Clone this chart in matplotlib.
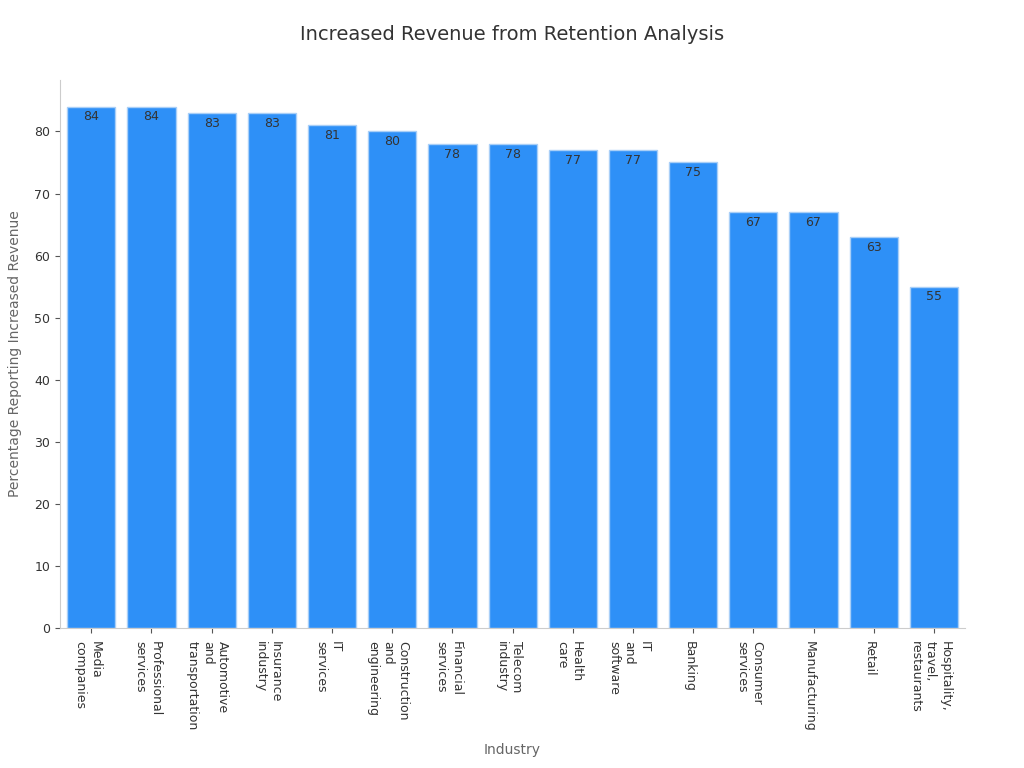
import matplotlib
matplotlib.use("Agg")
import matplotlib.pyplot as plt
import matplotlib.transforms as mtransforms

industries = ["Media\ncompanies", "Professional\nservices", "Automotive\nand\ntransportation",
              "Insurance\nindustry", "IT\nservices", "Construction\nand\nengineering",
              "Financial\nservices", "Telecom\nindustry", "Health\ncare", "IT\nand\nsoftware",
              "Banking", "Consumer\nservices", "Manufacturing", "Retail",
              "Hospitality,\ntravel,\nrestaurants"]
values = [84, 84, 83, 83, 81, 80, 78, 78, 77, 77, 75, 67, 67, 63, 55]

plt.rcParams['font.family'] = ['DejaVu Sans']

fig = plt.figure(figsize=(10.24, 7.68), dpi=100)
ax = fig.add_axes([0.0586, 0.182, 0.884, 0.714])

x = range(len(values))
bars = ax.bar(x, values, width=0.8, color='#2E90F7', edgecolor='#A9CFF7', linewidth=1)
for b, v in zip(bars, values):
    ax.text(b.get_x() + b.get_width() / 2, v - 0.6, str(v), ha='center', va='top',
            fontsize=9, color='#333333')

ax.set_xlim(-0.52, 14.52)
ax.set_ylim(0, 88.3)
ax.set_xticks(list(x))
ax.set_xticklabels(industries, rotation=-90, ha='center', va='top', multialignment='left',
                   fontsize=9, color='#333333')
shift = mtransforms.ScaledTranslation(-4 / 100, -3 / 100, fig.dpi_scale_trans)
for lbl in ax.get_xticklabels():
    lbl.set_transform(lbl.get_transform() + shift)
ax.set_yticks(range(0, 81, 10))
ax.tick_params(axis='y', labelsize=9, labelcolor='#333333', color='#555555')
ax.tick_params(axis='x', color='#555555')

for s in ['top', 'right']:
    ax.spines[s].set_visible(False)
for s in ['left', 'bottom']:
    ax.spines[s].set_color('#cccccc')

ax.set_xlabel('Industry', fontsize=10, color='#666666', labelpad=8)
ax.set_ylabel('Percentage Reporting Increased Revenue', fontsize=10, color='#666666', labelpad=9)
fig.suptitle('Increased Revenue from Retention Analysis', fontsize=14, color='#333333', y=0.968)

fig.savefig('out.png', dpi=100)
